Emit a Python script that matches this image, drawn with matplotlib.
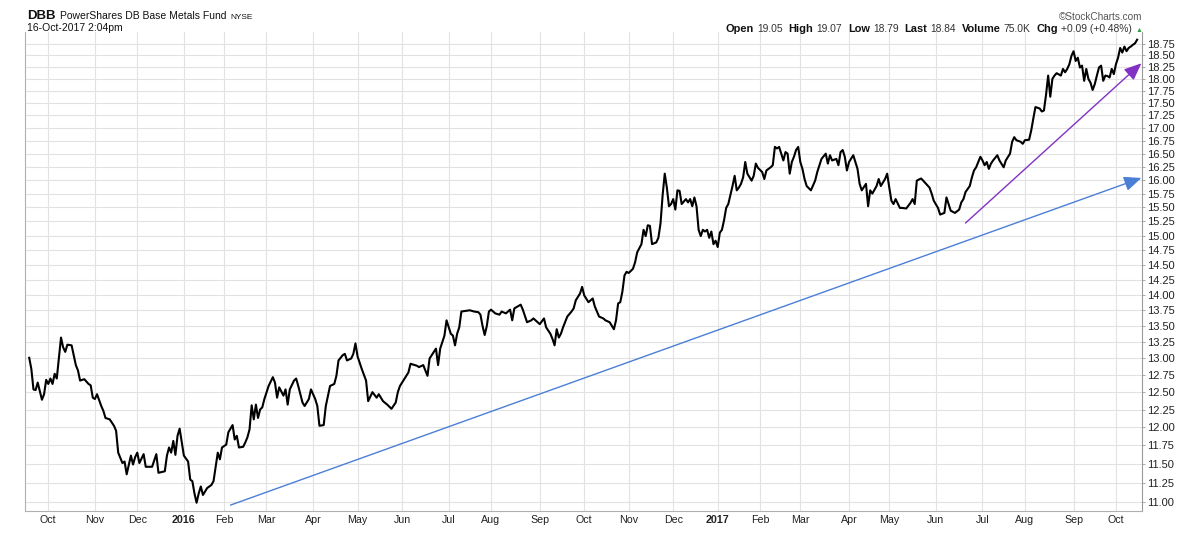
import numpy as np
import pandas as pd
import matplotlib
matplotlib.use('Agg')
import matplotlib.pyplot as plt
from matplotlib.ticker import FixedLocator, NullLocator

plt.rcParams['font.family'] = ['Liberation Sans', 'DejaVu Sans']

# ---------------- data ----------------
dates = [
 '2015-09-18','2015-09-21','2015-09-22','2015-09-23','2015-09-24','2015-09-28','2015-09-29','2015-09-30',
 '2015-10-01','2015-10-02','2015-10-05','2015-10-06','2015-10-07','2015-10-08','2015-10-09','2015-10-12','2015-10-13','2015-10-14','2015-10-16','2015-10-20','2015-10-21','2015-10-22','2015-10-26','2015-10-28','2015-10-29','2015-10-30',
 '2015-11-02','2015-11-03','2015-11-05','2015-11-06','2015-11-09','2015-11-11','2015-11-13','2015-11-16','2015-11-17','2015-11-19','2015-11-20','2015-11-23','2015-11-25','2015-11-27','2015-11-30',
 '2015-12-01','2015-12-02','2015-12-04','2015-12-07','2015-12-10','2015-12-14','2015-12-15','2015-12-18','2015-12-21','2015-12-22','2015-12-23','2015-12-24','2015-12-28','2015-12-29','2015-12-30','2015-12-31',
 '2016-01-04','2016-01-06','2016-01-07','2016-01-08','2016-01-11','2016-01-12','2016-01-13','2016-01-14','2016-01-15','2016-01-20','2016-01-22','2016-01-25','2016-01-26','2016-01-27','2016-01-28','2016-01-29',
 '2016-02-02','2016-02-03','2016-02-05','2016-02-08','2016-02-09','2016-02-10','2016-02-12','2016-02-16','2016-02-17','2016-02-18','2016-02-19','2016-02-22','2016-02-23','2016-02-24','2016-02-25','2016-02-26','2016-02-29',
 '2016-03-02','2016-03-04','2016-03-07','2016-03-08','2016-03-09','2016-03-11','2016-03-14','2016-03-15','2016-03-16','2016-03-18','2016-03-21','2016-03-22','2016-03-24','2016-03-28','2016-03-30','2016-03-31',
 '2016-04-04','2016-04-05','2016-04-06','2016-04-08','2016-04-11','2016-04-13','2016-04-15','2016-04-18','2016-04-19','2016-04-21','2016-04-22','2016-04-25','2016-04-27','2016-04-28','2016-04-29',
 '2016-05-02','2016-05-04','2016-05-06','2016-05-09','2016-05-11','2016-05-13','2016-05-16','2016-05-18','2016-05-20','2016-05-24','2016-05-26','2016-05-27','2016-05-31',
 '2016-06-02','2016-06-06','2016-06-07','2016-06-09','2016-06-10','2016-06-13','2016-06-15','2016-06-17','2016-06-20','2016-06-22','2016-06-23','2016-06-24','2016-06-27','2016-06-29','2016-06-30',
 '2016-07-05','2016-07-06','2016-07-07','2016-07-08','2016-07-11','2016-07-12','2016-07-14','2016-07-18','2016-07-20','2016-07-22','2016-07-25','2016-07-26','2016-07-27','2016-07-28','2016-07-29',
 '2016-08-01','2016-08-03','2016-08-05','2016-08-08','2016-08-10','2016-08-12','2016-08-15','2016-08-16','2016-08-19','2016-08-22','2016-08-24','2016-08-26','2016-08-29',
 '2016-09-01','2016-09-06','2016-09-07','2016-09-09','2016-09-12','2016-09-13','2016-09-14','2016-09-15','2016-09-16','2016-09-19','2016-09-21','2016-09-23','2016-09-26','2016-09-27','2016-09-29','2016-09-30',
 '2016-10-03','2016-10-05','2016-10-07','2016-10-10','2016-10-12','2016-10-14','2016-10-17','2016-10-19','2016-10-21','2016-10-24','2016-10-25','2016-10-26','2016-10-27','2016-10-28','2016-10-31',
 '2016-11-01','2016-11-03','2016-11-04','2016-11-07','2016-11-09','2016-11-10','2016-11-11','2016-11-14','2016-11-15','2016-11-16','2016-11-18','2016-11-21','2016-11-22','2016-11-23','2016-11-25','2016-11-28','2016-11-29','2016-11-30',
 '2016-12-01','2016-12-02','2016-12-05','2016-12-06','2016-12-07','2016-12-09','2016-12-12','2016-12-13','2016-12-14','2016-12-15','2016-12-16','2016-12-19','2016-12-20','2016-12-21','2016-12-22','2016-12-23','2016-12-27','2016-12-28','2016-12-29','2016-12-30',
 '2017-01-03','2017-01-04','2017-01-05','2017-01-06','2017-01-09','2017-01-10','2017-01-12','2017-01-13','2017-01-17','2017-01-18','2017-01-19','2017-01-20','2017-01-23','2017-01-24','2017-01-26','2017-01-27','2017-01-30','2017-01-31',
 '2017-02-02','2017-02-03','2017-02-06','2017-02-08','2017-02-09','2017-02-10','2017-02-13','2017-02-14','2017-02-16','2017-02-17','2017-02-21','2017-02-22','2017-02-23','2017-02-24','2017-02-27','2017-02-28',
 '2017-03-01','2017-03-02','2017-03-03','2017-03-06','2017-03-08','2017-03-10','2017-03-13','2017-03-15','2017-03-17','2017-03-20','2017-03-21','2017-03-22','2017-03-24','2017-03-27','2017-03-28','2017-03-29','2017-03-30','2017-03-31',
 '2017-04-03','2017-04-05','2017-04-07','2017-04-10','2017-04-11','2017-04-13','2017-04-17','2017-04-18','2017-04-19','2017-04-21','2017-04-24','2017-04-25','2017-04-27','2017-04-28',
 '2017-05-01','2017-05-02','2017-05-03','2017-05-04','2017-05-08','2017-05-09','2017-05-11','2017-05-15','2017-05-16','2017-05-17','2017-05-18','2017-05-22','2017-05-23','2017-05-26','2017-05-30','2017-05-31',
 '2017-06-02','2017-06-05','2017-06-07','2017-06-08','2017-06-09','2017-06-12','2017-06-14','2017-06-16','2017-06-19','2017-06-20','2017-06-21','2017-06-23','2017-06-26','2017-06-27','2017-06-28','2017-06-30',
 '2017-07-03','2017-07-05','2017-07-06','2017-07-07','2017-07-10','2017-07-11','2017-07-13','2017-07-14','2017-07-18','2017-07-19','2017-07-21','2017-07-24','2017-07-25','2017-07-26','2017-07-28','2017-07-31',
 '2017-08-01','2017-08-03','2017-08-04','2017-08-07','2017-08-08','2017-08-10','2017-08-11','2017-08-14','2017-08-15','2017-08-16','2017-08-17','2017-08-18','2017-08-21','2017-08-22','2017-08-24','2017-08-25','2017-08-28','2017-08-29','2017-08-30','2017-08-31',
 '2017-09-01','2017-09-05','2017-09-06','2017-09-07','2017-09-08','2017-09-11','2017-09-12','2017-09-13','2017-09-14','2017-09-15','2017-09-18','2017-09-19','2017-09-20','2017-09-21','2017-09-22','2017-09-25','2017-09-26','2017-09-27','2017-09-28','2017-09-29',
 '2017-10-02','2017-10-03','2017-10-04','2017-10-05','2017-10-06','2017-10-09','2017-10-10','2017-10-11','2017-10-12','2017-10-13','2017-10-16',
]
prices = [
 13.01,12.84,12.54,12.53,12.64,12.39,12.47,12.68,
 12.62,12.70,12.62,12.77,12.70,13.00,13.32,13.17,13.10,13.21,13.20,12.90,12.82,12.67,12.69,12.62,12.60,12.42,
 12.40,12.47,12.30,12.23,12.13,12.11,12.02,11.95,11.65,11.51,11.53,11.36,11.61,11.49,11.59,
 11.65,11.51,11.63,11.46,11.46,11.63,11.38,11.40,11.61,11.72,11.65,11.81,11.62,11.88,11.98,11.79,
 11.61,11.53,11.29,11.27,11.11,10.99,11.11,11.20,11.09,11.18,11.22,11.27,11.46,11.65,11.56,11.72,
 11.76,11.93,12.03,11.83,11.88,11.72,11.73,11.79,11.86,11.97,12.31,12.11,12.32,12.13,12.25,12.28,12.40,
 12.59,12.72,12.64,12.42,12.57,12.45,12.54,12.32,12.54,12.67,12.70,12.59,12.35,12.30,12.40,12.54,
 12.40,12.30,12.02,12.03,12.30,12.59,12.62,12.74,12.97,13.05,13.07,12.97,13.00,13.07,13.23,
 13.03,12.84,12.67,12.37,12.50,12.42,12.47,12.37,12.32,12.26,12.35,12.50,12.59,
 12.69,12.79,12.92,12.90,12.89,12.87,12.90,12.74,13.00,13.10,13.15,12.90,13.15,13.35,13.59,
 13.38,13.35,13.20,13.38,13.48,13.73,13.74,13.75,13.73,13.72,13.68,13.50,13.36,13.50,13.73,
 13.76,13.70,13.68,13.73,13.70,13.76,13.59,13.78,13.84,13.76,13.56,13.59,13.62,
 13.53,13.62,13.48,13.38,13.30,13.20,13.45,13.32,13.38,13.48,13.65,13.73,13.78,13.91,14.02,14.13,
 13.99,13.88,13.94,13.81,13.65,13.62,13.59,13.56,13.45,13.59,13.86,13.88,14.05,14.32,14.38,
 14.36,14.43,14.54,14.71,14.85,15.10,14.99,15.18,15.17,14.85,14.88,14.96,15.21,15.72,16.12,15.86,15.52,15.56,
 15.65,15.46,15.81,15.80,15.56,15.65,15.59,15.65,15.52,15.68,15.52,15.10,14.99,15.10,15.07,15.10,14.96,15.07,14.85,14.91,
 14.80,15.05,15.10,15.27,15.49,15.56,15.89,16.08,15.81,15.86,15.93,16.05,16.34,16.12,15.99,16.08,16.31,16.23,
 16.15,16.02,16.18,16.24,16.28,16.63,16.60,16.63,16.37,16.53,16.50,16.12,16.34,16.44,16.57,16.63,
 16.34,16.21,16.02,15.89,15.81,15.99,16.15,16.40,16.50,16.31,16.47,16.37,16.40,16.28,16.53,16.57,16.44,16.18,
 16.34,16.47,16.21,15.93,15.81,15.93,15.52,15.81,15.75,15.89,16.02,15.89,16.02,16.12,
 15.86,15.62,15.56,15.65,15.49,15.49,15.48,15.58,15.65,15.56,15.99,16.03,15.99,15.86,15.75,15.62,
 15.49,15.37,15.40,15.68,15.56,15.44,15.40,15.46,15.59,15.65,15.78,15.89,16.05,16.18,16.24,16.44,
 16.37,16.28,16.34,16.21,16.31,16.37,16.47,16.37,16.24,16.37,16.50,16.73,16.82,16.76,16.73,16.69,
 16.76,16.77,16.95,17.19,17.42,17.39,17.33,17.35,17.67,18.07,17.63,18.00,18.07,18.12,18.07,18.21,18.14,18.21,18.31,18.49,
 18.59,18.38,18.45,18.24,18.28,17.96,18.21,18.00,17.92,17.77,17.89,18.07,18.24,18.28,17.96,18.07,18.06,18.03,18.21,18.10,
 18.31,18.45,18.66,18.56,18.69,18.59,18.66,18.69,18.73,18.76,18.84,
]

# trend arrows (start date, start value, end date, end value)
blue_arrow = ('2016-02-04', 10.96, '2017-10-18', 16.04)
purple_arrow = ('2017-06-21', 15.22, '2017-10-18', 18.33)

y_ticks = [11.00 + 0.25 * i for i in range(32)]

# exchange holidays (for the trading-day x axis)
holidays = ['2015-11-26', '2015-12-25', '2016-01-01', '2016-01-18', '2016-02-15', '2016-03-25',
            '2016-05-30', '2016-07-04', '2016-09-05', '2016-11-24', '2016-12-26', '2017-01-02',
            '2017-01-16', '2017-02-20', '2017-04-14', '2017-05-29', '2017-07-04', '2017-09-04']

header_fields = [('Open', '19.05'), ('High', '19.07'), ('Low', '18.79'), ('Last', '18.84'),
                 ('Volume', '75.0K'), ('Chg', '+0.09 (+0.48%)')]

# ---------------- trading-day axis ----------------
trading = pd.bdate_range('2015-09-01', '2017-10-31')
trading = trading[~trading.isin(pd.to_datetime(holidays))]
t_ord = np.array([d.toordinal() for d in trading])
t_idx = np.arange(len(t_ord), dtype=float)


def pos(ds):
    ds = pd.to_datetime(pd.Series(np.atleast_1d(ds)))
    o = np.array([d.toordinal() for d in ds])
    return np.interp(o, t_ord, t_idx)


W, H = 1190, 550
fig = plt.figure(figsize=(W / 100, H / 100), dpi=100)
ax = fig.add_axes([25 / W, 1 - 511 / H, 1117 / W, 479 / H])

ax.plot(pos(dates), prices, color='black', lw=1.5, solid_joinstyle='round', zorder=3)

ax.set_yscale('log')
ax.set_ylim(10.885, 19.01)
ax.yaxis.set_major_locator(FixedLocator(y_ticks))
ax.yaxis.set_minor_locator(NullLocator())
ax.set_yticklabels([f'{v:.2f}' for v in y_ticks])
ax.yaxis.tick_right()

month_starts = pd.date_range('2015-10-01', '2017-10-01', freq='MS')
tick_pos, tick_lab, tick_bold = [], [], []
for ms in month_starts:
    first = trading[trading >= ms][0]
    tick_pos.append(pos(first)[0])
    if ms.month == 1:
        tick_lab.append(str(ms.year))
        tick_bold.append(True)
    else:
        tick_lab.append(ms.strftime('%b'))
        tick_bold.append(False)
ax.set_xticks(tick_pos)
ax.set_xticklabels(tick_lab)
for lbl, b in zip(ax.get_xticklabels(), tick_bold):
    if b:
        lbl.set_fontweight('bold')
ax.set_xlim(pos('2015-09-16')[0], pos('2017-10-18')[0] + 0.3)

ax.grid(True, which='major', color='#e2e2e2', lw=0.8, zorder=0)
ax.tick_params(axis='x', length=0, pad=3, labelsize=7.7, labelcolor='#222222')
ax.tick_params(axis='y', which='major', length=2.5, width=0.6, color='#999999', pad=1.2,
               labelsize=8, labelcolor='#222222')
ax.spines['top'].set_visible(False)
ax.spines['left'].set_color('#b0b0b0')
ax.spines['left'].set_linewidth(0.8)
ax.spines['bottom'].set_color('#b0b0b0')
ax.spines['bottom'].set_linewidth(0.8)
ax.spines['right'].set_color('#999999')
ax.spines['right'].set_linewidth(0.8)
ax.spines['right'].set_linestyle((0, (1, 1)))

# trend arrows
for (d0, v0, d1, v1), col in [(blue_arrow, '#4b7fd6'), (purple_arrow, '#8232c2')]:
    ax.annotate('', xy=(pos(d1)[0], v1), xytext=(pos(d0)[0], v0),
                arrowprops=dict(arrowstyle='-|>,head_length=0.75,head_width=0.32',
                                mutation_scale=14, color=col, lw=1.0,
                                shrinkA=0, shrinkB=0),
                annotation_clip=False, zorder=4)

# ---------------- header ----------------
renderer = fig.canvas.get_renderer()


def fx(px):
    return px / W


def fy(py):
    return 1 - py / H


def width_px(t):
    return t.get_window_extent(renderer=renderer).width


t = fig.text(fx(27), fy(19), 'DBB', fontsize=9.5, fontweight='bold', va='baseline', color='#111111')
x = 27 + width_px(t) + 4
t = fig.text(fx(x), fy(19), 'PowerShares DB Base Metals Fund', fontsize=7.5, va='baseline', color='#111111')
x += width_px(t) + 4
fig.text(fx(x), fy(19), 'NYSE', fontsize=6, va='baseline', color='#111111')
fig.text(fx(27), fy(31), '16-Oct-2017 2:04pm', fontsize=7.5, va='baseline', color='#111111')

fig.text(fx(1142), fy(20), '\u00a9StockCharts.com', fontsize=7.2, va='baseline', ha='right', color='#555555')

# info line, laid out right-to-left
segments = []
for i, (lab, val) in enumerate(header_fields):
    segments.append((lab, dict(fontsize=7.9, fontweight='bold', color='#111111'), 3))
    segments.append((val, dict(fontsize=7.4, color='#333333'), 6 if i < len(header_fields) - 1 else 3))
segments.append(('\u25b2', dict(fontsize=5, color='#2e9e3e'), 0))

texts = []
for s, kw, gap in segments:
    tt = fig.text(0, fy(31.5), s, va='baseline', **kw)
    texts.append((tt, width_px(tt), gap))
xr = 1142
for tt, w, gap in reversed(texts):
    xr -= gap
    tt.set_x(fx(xr - w))
    xr -= w

fig.savefig('out.png', dpi=100)
